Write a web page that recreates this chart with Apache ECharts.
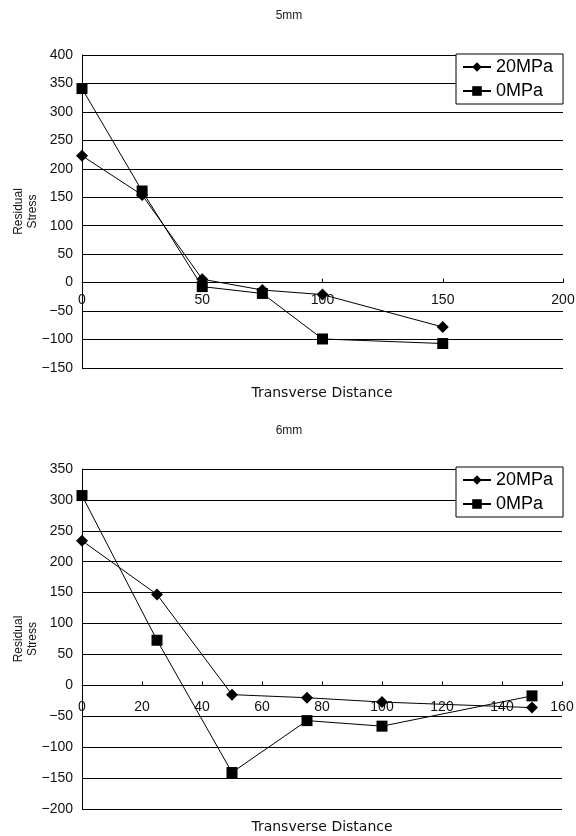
<!DOCTYPE html>
<html>
<head>
<meta charset="utf-8">
<script src="https://cdn.jsdelivr.net/npm/echarts@6/dist/echarts.min.js"></script>
<style>
  html, body { margin: 0; padding: 0; background: #fff; }
  #main { width: 576px; height: 836px; }
</style>
</head>
<body>
<div id="main"></div>
<script>
// data
var names = ['20MPa', '0MPa'];
var distance5 = [0, 25, 50, 75, 100, 150];
var stress5_20 = [223, 154, 6, -13, -21, -78];
var stress5_0 = [341, 161, -7, -19, -99, -107];
var distance6 = [0, 25, 50, 75, 100, 150];
var stress6_20 = [234, 147, -15, -20, -27, -36];
var stress6_0 = [307, 73, -141, -57, -66, -17];

// axis ranges [min, max, interval]
var xTicks5 = [0, 200, 50];
var yTicks5 = [-150, 400, 50];
var xTicks6 = [0, 160, 20];
var yTicks6 = [-200, 350, 50];

function pairs(xs, ys) {
  var out = [];
  for (var i = 0; i < xs.length; i++) out.push([xs[i], ys[i]]);
  return out;
}

var tickFont = { fontFamily: 'Liberation Sans', fontSize: 14, color: '#111' };
function minus(v) { return String(v).replace('-', '\u2212'); }

// main x axis: line + ticks on the zero line, no labels
function xAxis(gi, t) {
  return {
    type: 'value', gridIndex: gi, min: t[0], max: t[1], interval: t[2],
    axisLine: { onZero: true, lineStyle: { color: '#000', width: 1 } },
    axisTick: { show: true, inside: true, length: 4, lineStyle: { color: '#000' } },
    axisLabel: { show: false },
    splitLine: { show: false }
  };
}
// label-only x axis in a helper grid that ends at the zero line
function xLabelAxis(gi, t, margin) {
  return {
    type: 'value', gridIndex: gi, min: t[0], max: t[1], interval: t[2],
    axisLine: { show: false }, axisTick: { show: false }, splitLine: { show: false },
    axisLabel: Object.assign({ margin: margin }, tickFont)
  };
}
function yAxis(gi, t) {
  return {
    type: 'value', gridIndex: gi, min: t[0], max: t[1], interval: t[2],
    name: 'Residual\nStress', nameLocation: 'middle', nameRotate: 90, nameGap: 42,
    nameMoveOverlap: false,
    nameTextStyle: { fontFamily: 'Liberation Sans', fontSize: 12, color: '#111', lineHeight: 14 },
    axisLine: { show: true, lineStyle: { color: '#000', width: 1 } },
    axisTick: { show: false },
    axisLabel: Object.assign({ margin: 9, formatter: minus }, tickFont),
    splitLine: { show: true, lineStyle: { color: '#000', width: 1 } }
  };
}
function yHidden(gi, t) {
  return { type: 'value', gridIndex: gi, min: 0, max: t[1], show: false };
}
function serie(name, gi, data, symbol, size) {
  return {
    name: name, type: 'line', xAxisIndex: gi, yAxisIndex: gi,
    data: data, symbol: symbol, symbolSize: size, showSymbol: true,
    lineStyle: { color: '#000', width: 1 },
    itemStyle: { color: '#000' },
    animation: false
  };
}
function legend(top) {
  return {
    data: names, orient: 'vertical', left: 456, top: top,
    backgroundColor: '#fff', borderColor: '#000', borderWidth: 1, borderRadius: 0,
    padding: [4, 10, 4, 6], itemGap: 6, itemWidth: 28, itemHeight: 12,
    textStyle: { fontFamily: 'Liberation Sans', fontSize: 18, color: '#000' }
  };
}
function grid(top, width, height) {
  return { left: 82, top: top, width: width, height: height, outerBoundsMode: 'none', containLabel: false };
}

var titleFont = { fontFamily: 'Liberation Sans', fontSize: 12, fontWeight: 'normal', color: '#222' };
var nameFont = { fontFamily: 'DejaVu Sans', fontSize: 14, fontWeight: 'normal', color: '#111' };

// plot boxes
var top5 = 55, h5 = 313, top6 = 469, h6 = 340;
var zero5 = top5 + h5 * yTicks5[1] / (yTicks5[1] - yTicks5[0]);
var zero6 = top6 + h6 * yTicks6[1] / (yTicks6[1] - yTicks6[0]);

var chart = echarts.init(document.getElementById('main'), null, { renderer: 'canvas' });
chart.setOption({
  backgroundColor: '#fff',
  animation: false,
  title: [
    { text: '5mm', left: 289, top: 10, textAlign: 'center', textStyle: titleFont, padding: 0 },
    { text: 'Transverse Distance', left: 322, top: 386, textAlign: 'center', textStyle: nameFont, padding: 0 },
    { text: '6mm', left: 289, top: 425, textAlign: 'center', textStyle: titleFont, padding: 0 },
    { text: 'Transverse Distance', left: 322, top: 820, textAlign: 'center', textStyle: nameFont, padding: 0 }
  ],
  legend: [legend(54), legend(467)],
  grid: [
    grid(top5, 481, h5),
    grid(top6, 480, h6),
    grid(top5, 481, zero5 - top5),
    grid(top6, 480, zero6 - top6)
  ],
  xAxis: [xAxis(0, xTicks5), xAxis(1, xTicks6), xLabelAxis(2, xTicks5, 11), xLabelAxis(3, xTicks6, 15)],
  yAxis: [yAxis(0, yTicks5), yAxis(1, yTicks6), yHidden(2, yTicks5), yHidden(3, yTicks6)],
  series: [
    serie(names[0], 0, pairs(distance5, stress5_20), 'diamond', 12),
    serie(names[1], 0, pairs(distance5, stress5_0), 'rect', 11),
    serie(names[0], 1, pairs(distance6, stress6_20), 'diamond', 12),
    serie(names[1], 1, pairs(distance6, stress6_0), 'rect', 11)
  ]
});
</script>
</body>
</html>
